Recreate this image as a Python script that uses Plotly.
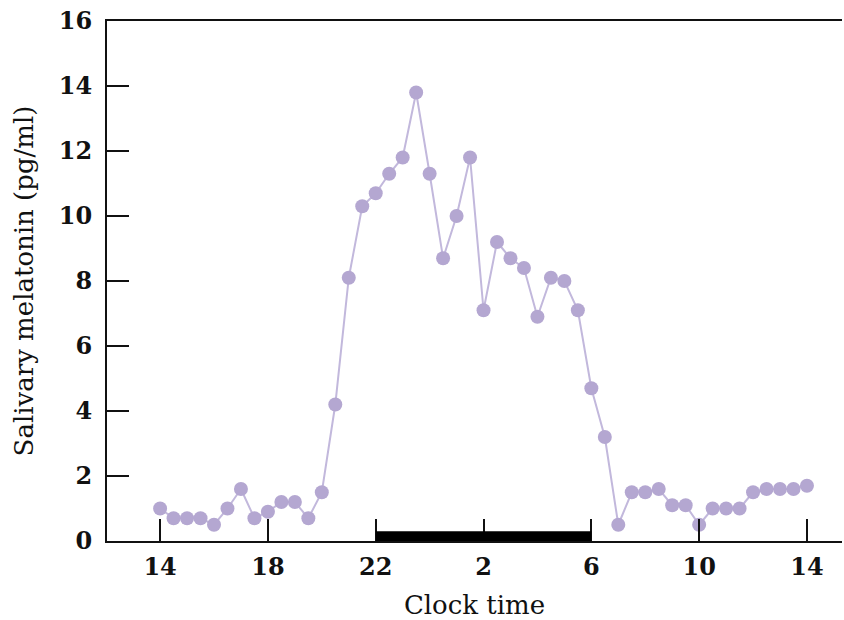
import plotly.graph_objects as go

# Clock time in hours since midnight of day 1 (14 -> 38 = 14:00 next day), 30-min steps
hours = [14 + 0.5 * i for i in range(49)]
melatonin = [1.0, 0.7, 0.7, 0.7, 0.5, 1.0, 1.6, 0.7, 0.9, 1.2, 1.2, 0.7, 1.5,
             4.2, 8.1, 10.3, 10.7, 11.3, 11.8, 13.8, 11.3, 8.7, 10.0, 11.8, 7.1,
             9.2, 8.7, 8.4, 6.9, 8.1, 8.0, 7.1, 4.7, 3.2, 0.5, 1.5, 1.5, 1.6,
             1.1, 1.1, 0.5, 1.0, 1.0, 1.0, 1.5, 1.6, 1.6, 1.6, 1.7]
tick_vals = [14, 18, 22, 26, 30, 34, 38]
tick_text = ["14", "18", "22", "2", "6", "10", "14"]
sleep_start, sleep_end = 22, 30

PURPLE = "#b4a7d1"
LINE = "#c2b8dc"
FONT = "DejaVu Serif"

fig = go.Figure()
fig.add_trace(go.Scatter(
    x=hours, y=melatonin, mode="lines+markers",
    line=dict(color=LINE, width=2),
    marker=dict(color=PURPLE, size=14),
    showlegend=False, hoverinfo="skip",
))

fig.add_shape(type="rect", xref="x", yref="y",
              x0=sleep_start, x1=sleep_end, y0=0, y1=0.3,
              fillcolor="black", line=dict(width=0), layer="above")

fig.update_layout(
    width=844, height=620,
    margin=dict(l=107, r=2, t=21, b=79),
    paper_bgcolor="white", plot_bgcolor="white",
    font=dict(family=FONT, color="#111"),
)
fig.update_xaxes(
    range=[12.03, 39.30], tickvals=tick_vals, ticktext=tick_text,
    ticks="inside", ticklen=22, tickwidth=2, tickcolor="#111",
    showline=True, linecolor="#111", linewidth=2, mirror=True,
    showgrid=False, zeroline=False, ticklabelstandoff=3,
    tickfont=dict(family=FONT, size=24, color="#111", weight="bold"),
    title=dict(text="Clock time", font=dict(family=FONT, size=26, color="#111"), standoff=18),
)
fig.update_yaxes(
    range=[0, 16], tickvals=list(range(0, 17, 2)),
    ticks="inside", ticklen=22, tickwidth=2, tickcolor="#111",
    showline=True, linecolor="#111", linewidth=2,
    showgrid=False, zeroline=False, ticklabelstandoff=8,
    tickfont=dict(family=FONT, size=24, color="#111", weight="bold"),
    title=dict(text="Salivary melatonin (pg/ml)", font=dict(family=FONT, size=26, color="#111"), standoff=18),
)

fig.write_html("out.html")
